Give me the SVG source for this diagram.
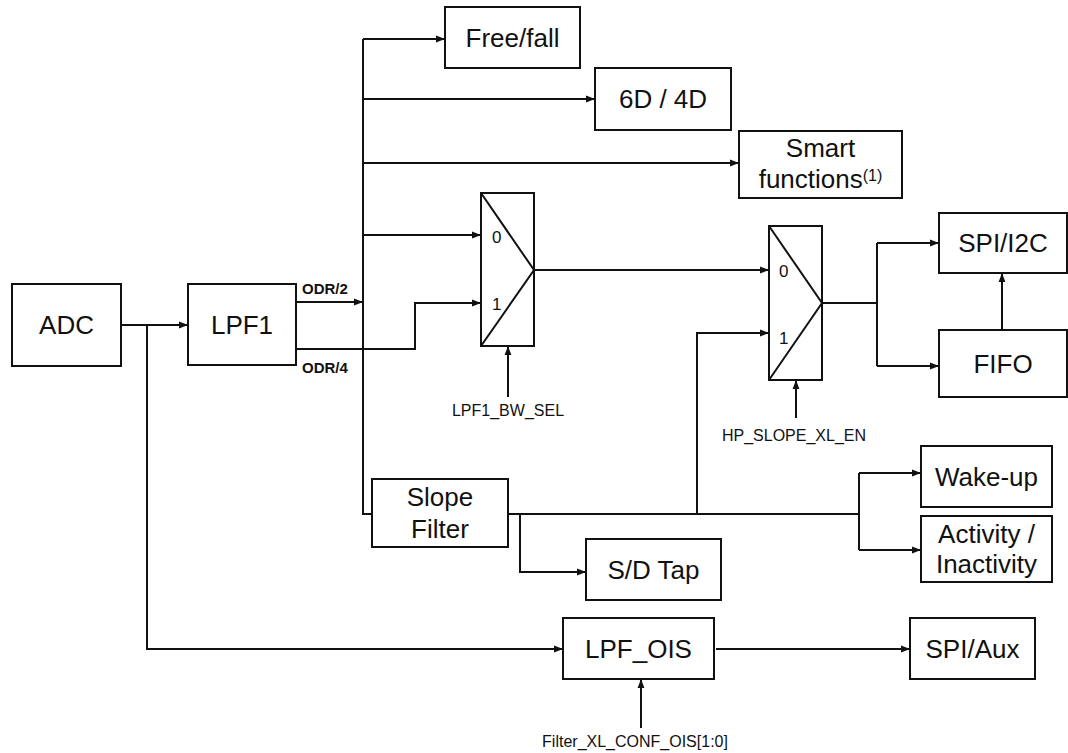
<svg xmlns="http://www.w3.org/2000/svg" width="1068" height="753" viewBox="0 0 1068 753">
<defs>
<marker id="ah" viewBox="0 0 10 10" refX="10" refY="5" markerWidth="9" markerHeight="9" markerUnits="userSpaceOnUse" orient="auto"><path d="M0,1.2 L10,5 L0,8.8 z" fill="#111"/></marker>
<style>
.box{fill:#fff;stroke:#111;stroke-width:2}
.mux{fill:#fff;stroke:#111;stroke-width:2}
.diag{fill:none;stroke:#111;stroke-width:2;stroke-linejoin:miter}
.t{font-family:"Liberation Sans",Arial,sans-serif;font-size:26px;fill:#111;text-anchor:middle}
.s{font-family:"Liberation Sans",Arial,sans-serif;font-size:16px;fill:#111;text-anchor:middle}
.b{font-family:"Liberation Sans",Arial,sans-serif;font-size:15px;font-weight:bold;fill:#111}
.n{font-family:"Liberation Sans",Arial,sans-serif;font-size:17px;fill:#111}
.c{fill:none;stroke:#111;stroke-width:2}
.a{marker-end:url(#ah)}
</style>
</defs>
<rect width="1068" height="753" fill="#fff"/>
<g id="connectors">
<path class="c a" d="M121,325 H188"/>
<path class="c a" d="M147,325 V649 H563"/>
<path class="c a" d="M296,302 H363"/>
<path class="c" d="M363,39 V514 H372"/>
<path class="c a" d="M363,39 H445"/>
<path class="c a" d="M363,99 H595"/>
<path class="c a" d="M363,163 H739"/>
<path class="c a" d="M363,235 H481"/>
<path class="c a" d="M296,349 H415 V303 H481"/>
<path class="c a" d="M508,397 V346"/>
<path class="c a" d="M534,270 H769"/>
<path class="c" d="M508,514 H859"/>
<path class="c" d="M859,473 V550"/>
<path class="c a" d="M859,473 H921"/>
<path class="c a" d="M859,550 H921"/>
<path class="c a" d="M697,514 V333 H769"/>
<path class="c a" d="M520,514 V572 H586"/>
<path class="c" d="M822,303 H877"/>
<path class="c" d="M877,243 V366"/>
<path class="c a" d="M877,243 H939"/>
<path class="c a" d="M877,366 H939"/>
<path class="c a" d="M1002,330 V273"/>
<path class="c a" d="M796,418 V380"/>
<path class="c a" d="M716,649 H910"/>
<path class="c a" d="M641,728 V679"/>
</g>
<g id="adc"><rect class="box" x="12" y="284" width="109" height="82"/><text class="t" x="66.5" y="334">ADC</text></g>
<g id="lpf1"><rect class="box" x="188" y="284" width="108" height="81"/><text class="t" x="242" y="334">LPF1</text></g>
<g id="odr-labels"><text class="b" x="302" y="294">ODR/2</text><text class="b" x="302" y="373">ODR/4</text></g>
<g id="freefall"><rect class="box" x="445" y="7" width="135" height="61"/><text class="t" x="512.5" y="47">Free/fall</text></g>
<g id="d6d4"><rect class="box" x="595" y="68" width="136" height="62"/><text class="t" x="663" y="108">6D / 4D</text></g>
<g id="smart"><rect class="box" x="739" y="131" width="163" height="67"/><text class="t" x="820.5" y="157">Smart</text><text class="t" x="820.5" y="188">functions<tspan font-size="16" dy="-7">(1)</tspan></text></g>
<g id="mux1"><rect class="mux" x="481" y="193" width="53" height="153"/><path class="diag" d="M481,193 L534,270 L481,346"/><text class="n" x="492" y="243">0</text><text class="n" x="492" y="310">1</text></g>
<g id="lpf1-bw-sel"><text class="s" x="508" y="416">LPF1_BW_SEL</text></g>
<g id="mux2"><rect class="mux" x="769" y="226" width="53" height="154"/><path class="diag" d="M769,226 L822,303 L769,380"/><text class="n" x="779" y="277">0</text><text class="n" x="779" y="344">1</text></g>
<g id="hp-slope"><text class="s" x="794" y="441">HP_SLOPE_XL_EN</text></g>
<g id="spi-i2c"><rect class="box" x="939" y="213" width="128" height="60"/><text class="t" x="1003" y="252">SPI/I2C</text></g>
<g id="fifo"><rect class="box" x="939" y="330" width="128" height="67"/><text class="t" x="1003" y="373">FIFO</text></g>
<g id="slope"><rect class="box" x="372" y="479" width="136" height="68"/><text class="t" x="440" y="506">Slope</text><text class="t" x="440" y="538">Filter</text></g>
<g id="sdtap"><rect class="box" x="586" y="539" width="135" height="61"/><text class="t" x="653.5" y="579">S/D Tap</text></g>
<g id="wakeup"><rect class="box" x="921" y="446" width="131" height="61"/><text class="t" x="986.5" y="486">Wake-up</text></g>
<g id="activity"><rect class="box" x="921" y="516" width="131" height="66"/><text class="t" x="986.5" y="543">Activity /</text><text class="t" x="986.5" y="573">Inactivity</text></g>
<g id="lpf-ois"><rect class="box" x="563" y="618" width="151" height="61"/><text class="t" x="638.5" y="658">LPF_OIS</text></g>
<g id="spi-aux"><rect class="box" x="910" y="618" width="125" height="61"/><text class="t" x="972.5" y="658">SPI/Aux</text></g>
<g id="filter-xl"><text class="s" x="635" y="747">Filter_XL_CONF_OIS[1:0]</text></g>
</svg>
